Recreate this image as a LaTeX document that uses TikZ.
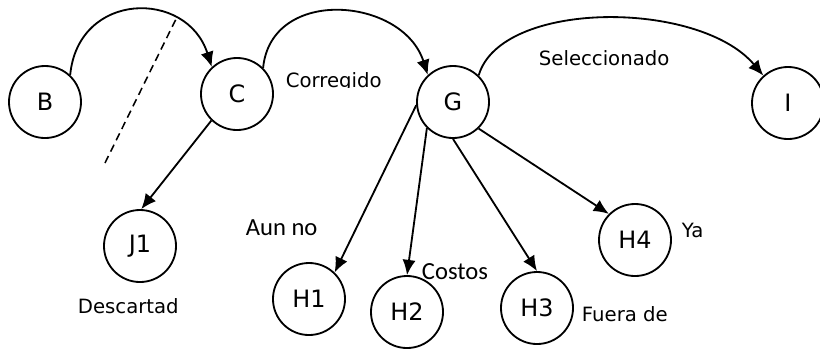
\documentclass[tikz,border=0pt]{standalone}
\usepackage{fontspec}
\setmainfont{DejaVu Sans}
\newfontfamily\calibrifont{Carlito}
\usetikzlibrary{arrows.meta}

\begin{document}
\begin{tikzpicture}[x=0.025cm, y=-0.025cm, line width=1.3pt,
    state/.style={circle, draw=black, minimum size=1.8cm, inner sep=0pt, font=\fontsize{17}{20}\selectfont},
    lbl/.style={anchor=base west, inner sep=0pt, font=\fontsize{14}{17}\selectfont},
    lblc/.style={anchor=base west, inner sep=0pt, font=\calibrifont\fontsize{17.5}{20}\selectfont},
    arr/.style={-{Latex[length=3.8mm, width=3.3mm]}}]
\useasboundingbox (0,0) rectangle (820,351);

\node[state] (B) at (45,102) {B};
\node[state] (C) at (237,94) {C};
\node[state] (G) at (453,102) {G};
\node[state] (I) at (788,103) {I};
\node[state] (J1) at (140,246) {J1};
\node[state] (H1) at (309,299) {H1};
\node[state] (H2) at (407,312) {H2};
\node[state] (H3) at (537,308) {H3};
\node[state] (H4) at (635,240) {H4};

\draw[arr] (B.47) .. controls +(8,-84) and +(-25,-78) .. (C.133);
\draw[arr] (C.45) .. controls +(8,-82) and +(-25,-78) .. (G.133);
\draw[arr] (G.46) .. controls +(22,-76) and +(-64,-76) .. (I.132);

\draw[arr] (C.226) -- (J1.88);
\draw[arr] (G.185) -- (H1.46);
\draw[arr] (G.225) -- (H2.90);
\draw[arr] (G.270) -- (H3.90);
\draw[arr] (G.314) -- (H4.135);

\coordinate (cutA) at (105,163);
\coordinate (cutB) at (176,19);
\draw[line width=1.1pt, dash pattern=on 5.5pt off 3.5pt] (cutA) -- (cutB);

\begin{scope}
  \clip (280,60) rectangle (400,87.5);
  \node[lbl] (corr) at (285,87) {Corregido};
\end{scope}
\node[lbl] (sel) at (538,65) {Seleccionado};
\node[lblc] (aun) at (245,235) {Aun no};
\node[lblc] (cost) at (421,279) {Costos};
\node[lbl] (ya) at (681,237) {Ya};
\node[lbl] (fuera) at (581,321) {Fuera de};
\node[lbl] (desc) at (77,313) {Descartad};

\end{tikzpicture}
\end{document}
